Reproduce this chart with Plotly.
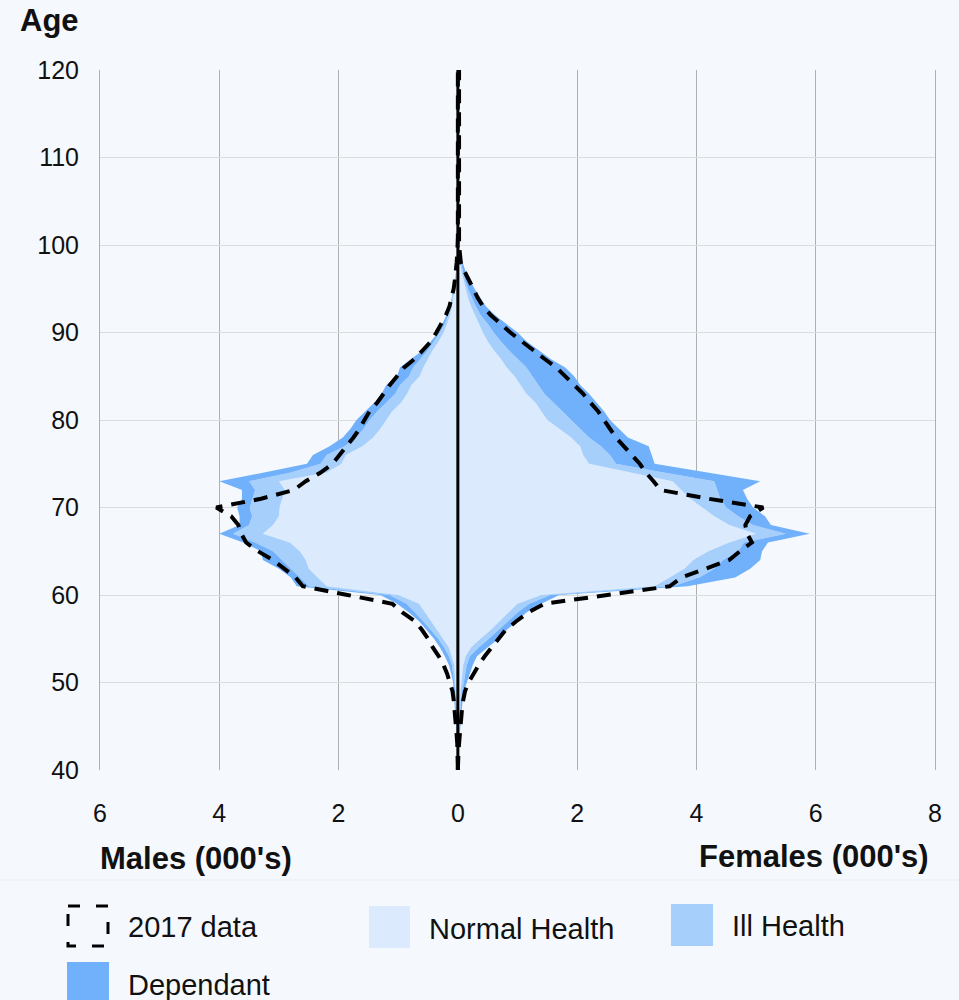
import plotly.graph_objects as go

ages = list(range(40, 101))
ages_line = list(range(40, 121))

# Females (000's) per layer
f_normal = [0, 0, 0.005, 0.01, 0.015, 0.02, 0.025, 0.03, 0.035, 0.045,
            0.06, 0.07, 0.09, 0.13, 0.22, 0.38, 0.55, 0.7, 0.85, 1.0,
            1.4, 3.3, 3.55, 3.8, 3.95, 4.2, 4.55, 5.0, 4.55, 4.3,
            4.1, 3.9, 3.75, 3.6, 2.9, 2.2, 2.1, 2.05, 1.9, 1.7,
            1.5, 1.4, 1.3, 1.15, 1.05, 0.95, 0.82, 0.72, 0.6, 0.5,
            0.42, 0.35, 0.28, 0.22, 0.17, 0.13, 0.09, 0.06, 0.04, 0.02, 0.01]
f_ill = [0, 0, 0.003, 0.005, 0.005, 0.01, 0.01, 0.015, 0.02, 0.025,
         0.04, 0.05, 0.06, 0.07, 0.13, 0.14, 0.13, 0.13, 0.15, 0.2,
         0.15, 0.3, 0.5, 0.5, 0.5, 0.5, 0.25, 0.5, 0.4, 0.4,
         0.4, 0.5, 0.6, 0.7, 0.55, 0.45, 0.45, 0.35, 0.3, 0.35,
         0.4, 0.35, 0.3, 0.3, 0.3, 0.3, 0.33, 0.28, 0.25, 0.22,
         0.18, 0.15, 0.1, 0.08, 0.06, 0.04, 0.03, 0.02, 0.01, 0.01, 0.005]
f_dep = [0, 0, 0.002, 0.005, 0.01, 0.01, 0.015, 0.015, 0.025, 0.03,
         0.05, 0.08, 0.1, 0.12, 0.15, 0.16, 0.14, 0.15, 0.15, 0.2,
         0.15, 0.25, 0.6, 0.6, 0.62, 0.4, 0.4, 0.4, 0.3, 0.45,
         0.45, 0.45, 0.43, 0.77, 0.75, 0.65, 0.7, 0.8, 0.65, 0.65,
         0.65, 0.7, 0.73, 0.75, 0.7, 0.7, 0.65, 0.55, 0.5, 0.43,
         0.4, 0.3, 0.24, 0.17, 0.14, 0.11, 0.08, 0.05, 0.03, 0.01, 0.005]

# Males (000's) per layer
m_normal = [0, 0, 0, 0.005, 0.01, 0.01, 0.015, 0.02, 0.025, 0.03,
            0.04, 0.05, 0.06, 0.1, 0.15, 0.25, 0.35, 0.45, 0.55, 0.65,
            1.0, 2.2, 2.35, 2.5, 2.55, 2.65, 2.82, 3.27, 3.1, 3.0,
            2.99, 2.95, 2.9, 3.0, 2.2, 1.95, 1.88, 1.6, 1.42, 1.3,
            1.2, 1.1, 0.95, 0.85, 0.78, 0.64, 0.58, 0.5, 0.42, 0.32,
            0.24, 0.18, 0.13, 0.1, 0.07, 0.05, 0.03, 0.02, 0.01, 0.005, 0]
m_ill = [0, 0, 0, 0.003, 0.005, 0.01, 0.01, 0.01, 0.01, 0.015,
         0.02, 0.03, 0.04, 0.05, 0.08, 0.08, 0.1, 0.13, 0.17, 0.21,
         0.15, 0.3, 0.3, 0.3, 0.4, 0.45, 0.58, 0.5, 0.4, 0.45,
         0.5, 0.5, 0.5, 0.5, 0.6, 0.35, 0.32, 0.3, 0.28, 0.28,
         0.28, 0.25, 0.25, 0.2, 0.19, 0.18, 0.17, 0.12, 0.08, 0.08,
         0.06, 0.04, 0.03, 0.02, 0.02, 0.01, 0.01, 0.01, 0.005, 0.005, 0]
m_dep = [0, 0, 0.005, 0.002, 0.005, 0.01, 0.01, 0.01, 0.015, 0.015,
         0.02, 0.03, 0.05, 0.07, 0.07, 0.07, 0.07, 0.07, 0.1, 0.16,
         0.15, 0.2, 0.15, 0.2, 0.32, 0.2, 0.2, 0.23, 0.16, 0.21,
         0.21, 0.17, 0.22, 0.5, 0.45, 0.23, 0.23, 0.25, 0.23, 0.22,
         0.22, 0.2, 0.2, 0.23, 0.23, 0.2, 0.22, 0.16, 0.08, 0.05,
         0.03, 0.04, 0.03, 0.02, 0.01, 0.02, 0.01, 0, 0.005, 0, 0]

# 2017 data (000's), ages 40..120
m_2017 = [0, 0, 0.01, 0.01, 0.02, 0.03, 0.04, 0.05, 0.07, 0.09,
          0.13, 0.18, 0.24, 0.32, 0.42, 0.5, 0.6, 0.72, 0.93, 1.1,
          1.85, 2.6, 2.72, 2.9, 3.1, 3.35, 3.55, 3.63, 3.68, 3.8,
          4.05, 3.3, 2.75, 2.55, 2.3, 2.1, 1.98, 1.85, 1.75, 1.65,
          1.57, 1.48, 1.35, 1.25, 1.14, 1.02, 0.9, 0.72, 0.58, 0.45,
          0.36, 0.28, 0.2, 0.14, 0.1, 0.07, 0.05, 0.03, 0.02, 0.01, 0,
          0, 0, 0, 0, 0, 0, 0, 0, 0, 0, 0, 0, 0, 0, 0, 0, 0, 0, 0, 0]
f_2017 = [0, 0, 0.01, 0.02, 0.03, 0.05, 0.06, 0.07, 0.09, 0.12,
          0.18, 0.26, 0.35, 0.45, 0.57, 0.68, 0.8, 0.98, 1.18, 1.45,
          2.5, 3.55, 3.75, 4.15, 4.55, 4.73, 4.93, 4.85, 4.82, 4.9,
          5.12, 4.2, 3.4, 3.28, 3.15, 3.05, 2.92, 2.8, 2.65, 2.55,
          2.45, 2.35, 2.22, 2.1, 1.95, 1.8, 1.65, 1.45, 1.25, 1.07,
          0.88, 0.72, 0.55, 0.42, 0.33, 0.26, 0.18, 0.11, 0.05, 0.03, 0.02,
          0.02, 0.02, 0.02, 0.02, 0.02, 0.02, 0.02, 0.02, 0.02, 0.02,
          0.02, 0.02, 0.02, 0.02, 0.02, 0.02, 0.02, 0.02, 0.02, 0.02]

x_ticks = [-6, -4, -2, 0, 2, 4, 6, 8]
x_labels = ["6", "4", "2", "0", "2", "4", "6", "8"]
y_ticks = [40, 50, 60, 70, 80, 90, 100, 110, 120]

C_NORMAL = "#dbeafd"
C_ILL = "#a6cffc"
C_DEP = "#71b1fb"
BG = "#f5f9fe"
FONT = "Liberation Sans, Arial, sans-serif"
TXT = "#111111"

fig = go.Figure()
for name, vals, col in [("Normal Health", m_normal, C_NORMAL),
                        ("Ill Health", m_ill, C_ILL),
                        ("Dependant", m_dep, C_DEP)]:
    fig.add_trace(go.Scatter(x=[-v for v in vals], y=ages, name=name,
                             stackgroup="males", orientation="h", mode="lines",
                             line=dict(width=0, color=col), fillcolor=col,
                             showlegend=False))
for name, vals, col in [("Normal Health", f_normal, C_NORMAL),
                        ("Ill Health", f_ill, C_ILL),
                        ("Dependant", f_dep, C_DEP)]:
    fig.add_trace(go.Scatter(x=vals, y=ages, name=name,
                             stackgroup="females", orientation="h", mode="lines",
                             line=dict(width=0, color=col), fillcolor=col,
                             showlegend=False))

fig.add_trace(go.Scatter(x=[-v for v in m_2017], y=ages_line, mode="lines",
                         name="2017 data", showlegend=False,
                         line=dict(color="black", width=4, dash="14px,9px")))
fig.add_trace(go.Scatter(x=f_2017, y=ages_line, mode="lines",
                         name="2017 data", showlegend=False,
                         line=dict(color="black", width=4, dash="14px,9px")))

# zero line above the areas
fig.add_shape(type="line", xref="x", yref="paper", x0=0, x1=0, y0=0, y1=1,
              line=dict(color="black", width=3), layer="above")

# plot area in pixels
L, R, T, B = 100, 935, 70, 770


def px(xp):
    return (xp - L) / (R - L)


def py(yp):
    return (B - yp) / (B - T)


annotations = [
    dict(text="<b>Age</b>", x=px(18), y=py(21), xanchor="left", yanchor="middle",
         font=dict(size=31, color=TXT)),
    dict(text="<b>Males (000's)</b>", x=px(98), y=py(858), xanchor="left", yanchor="middle",
         font=dict(size=31, color=TXT)),
    dict(text="<b>Females (000's)</b>", x=px(931), y=py(856), xanchor="right", yanchor="middle",
         font=dict(size=31, color=TXT)),
    dict(text="2017 data", x=px(126), y=py(927), xanchor="left", yanchor="middle",
         font=dict(size=29, color=TXT)),
    dict(text="Normal Health", x=px(427), y=py(929), xanchor="left", yanchor="middle",
         font=dict(size=29, color=TXT)),
    dict(text="Ill Health", x=px(730), y=py(926), xanchor="left", yanchor="middle",
         font=dict(size=29, color=TXT)),
    dict(text="Dependant", x=px(126), y=py(985), xanchor="left", yanchor="middle",
         font=dict(size=29, color=TXT)),
]
for a in annotations:
    a.update(xref="paper", yref="paper", showarrow=False)

shapes_legend = [
    dict(type="line", x0=px(0), x1=px(959), y0=py(880), y1=py(880),
         line=dict(color="#e9eef6", width=1)),
    dict(type="rect", x0=px(68), x1=px(108), y0=py(906), y1=py(946),
         line=dict(color="black", width=3, dash="12px,16px"), fillcolor="rgba(0,0,0,0)"),
    dict(type="rect", x0=px(369), x1=px(410), y0=py(906), y1=py(948),
         line=dict(width=0), fillcolor=C_NORMAL),
    dict(type="rect", x0=px(671), x1=px(713), y0=py(904), y1=py(946),
         line=dict(width=0), fillcolor=C_ILL),
    dict(type="rect", x0=px(67), x1=px(109), y0=py(962), y1=py(1002),
         line=dict(width=0), fillcolor=C_DEP),
]
for s in shapes_legend:
    s.update(xref="paper", yref="paper")
    fig.add_shape(**s)

fig.update_layout(
    width=959, height=1000,
    margin=dict(l=L, r=959 - R, t=T, b=1000 - B),
    paper_bgcolor=BG, plot_bgcolor=BG,
    font=dict(family=FONT, size=24, color=TXT),
    showlegend=False,
    annotations=annotations,
)
fig.update_xaxes(range=[-6, 8], tickvals=x_ticks, ticktext=x_labels,
                 showgrid=True, gridcolor="#b0b0b0", gridwidth=1,
                 zeroline=False, showline=False, ticks="",
                 ticklabelstandoff=26, tickfont=dict(size=25, color=TXT),
                 fixedrange=True)
fig.update_yaxes(range=[40, 120], tickvals=y_ticks,
                 showgrid=True, gridcolor="#dcdcdc", gridwidth=1,
                 zeroline=False, showline=True, linecolor="#b0b0b0", linewidth=1,
                 mirror=True, ticks="", ticklabelstandoff=15,
                 tickfont=dict(size=25, color=TXT), fixedrange=True)

post = ("document.body.style.margin='0';document.body.style.padding='0';"
        "document.body.style.overflow='hidden';"
        "document.body.style.background='" + BG + "';")
fig.write_html("out.html", config={"displayModeBar": False}, post_script=post)
